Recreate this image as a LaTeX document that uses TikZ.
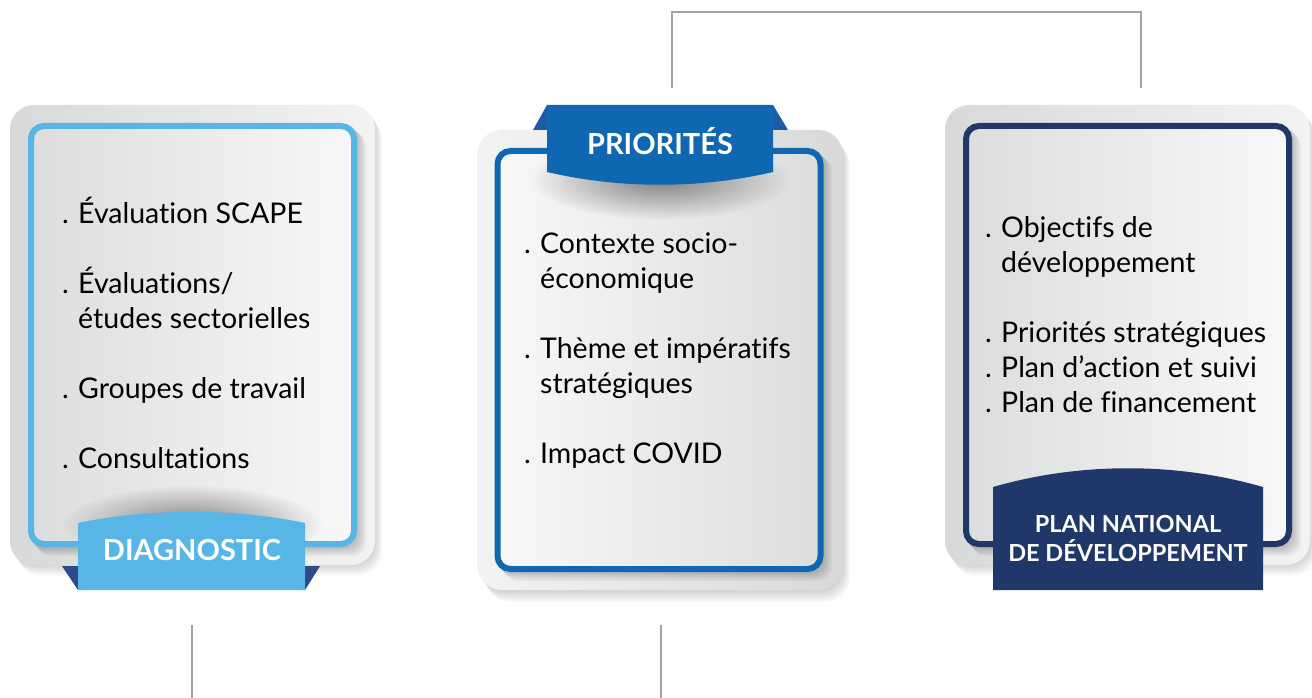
\documentclass[tikz,border=0pt]{standalone}
\usepackage{fontspec}
\setmainfont{Lato}[Ligatures=NoCommon]
\usetikzlibrary{fadings}

\definecolor{skyblue}{HTML}{58B6E6}
\definecolor{midblue}{HTML}{0F67B1}
\definecolor{navy}{HTML}{1F3769}
\definecolor{foldnavy}{HTML}{2C4A8A}
\definecolor{foldblue}{HTML}{1A5CA5}
\definecolor{linkgray}{HTML}{A3A3A3}
\definecolor{paleL}{HTML}{DCDDDD}
\definecolor{paleR}{HTML}{F8F8F8}
\definecolor{backL}{HTML}{D8D9D9}
\definecolor{backR}{HTML}{F3F3F3}

% bullet item and its continuation line
\newcommand{\itm}[1]{\makebox[16pt][l]{.}#1}
\newcommand{\cnt}[1]{\hspace*{16pt}#1}

\tikzfading[name=softglow, inner color=transparent!55, outer color=transparent!100]

\tikzset{
	cardback/.style={rounded corners=24pt, minimum width=365pt, minimum height=460pt, inner sep=0pt},
	cardface/.style={rounded corners=13pt, line width=6pt, minimum width=323pt, minimum height=418pt, inner sep=0pt},
	bullets/.style={anchor=base west, inner sep=0pt, font=\fontsize{28.5}{35}\selectfont},
	bannertext/.style={anchor=base, inner sep=0pt, text=white, font=\bfseries\fontsize{29}{32}\selectfont},
	smallbanner/.style={bannertext, font=\bfseries\fontsize{23.5}{26}\selectfont},
	link/.style={draw=linkgray, line width=1.6pt}
}

\begin{document}
\begin{tikzpicture}[x=1pt, y=-1pt]
		\useasboundingbox (0,0) rectangle (1312,698);

		% diagnostic card
		\foreach \i in {1,...,7}
			\fill[black, opacity=.025, rounded corners=24pt] (10+\i,105+1.5*\i) rectangle (375+\i,565+1.5*\i);
		\node[cardback, left color=backL, right color=backR] (diagBack) at (192.5,335) {};
		\foreach \i in {1,...,6}
			\fill[black, opacity=.035, rounded corners=14pt] (28+1.5*\i,123+1.5*\i) rectangle (357+1.5*\i,547+1.5*\i);
		\node[cardface, draw=skyblue, left color=paleL, right color=paleR] (diagFace) at (192.5,335) {};
		\fill[black, path fading=softglow] (192,525) ellipse (130 and 40);
		\fill[foldnavy] (62,566) -- (78,566) -- (78,590) -- cycle;
		\fill[foldnavy] (320,566) -- (305,566) -- (305,590) -- cycle;
		\fill[skyblue] (78,590) -- (78,523) .. controls (150,508) and (233,508) .. (305,523) -- (305,590) -- cycle;
		\node[bannertext] (diagTitle) at (192,560) {DIAGNOSTIC};
		\node[bullets] (diagList) at (62,223) {\begin{minipage}[t]{300pt}
			\itm{Évaluation SCAPE}\\[35pt]
			\itm{Évaluations/}\\
			\cnt{études sectorielles}\\[35pt]
			\itm{Groupes de travail}\\[35pt]
			\itm{Consultations}
		\end{minipage}};

		% priorities card
		\foreach \i in {1,...,8}
			\fill[black, opacity=.025, rounded corners=24pt] (478+\i,130+1.5*\i) rectangle (842+\i,590+1.5*\i);
		\node[cardback, left color=backR, right color=backL] (prioBack) at (660,360) {};
		\foreach \i in {1,...,6}
			\fill[black, opacity=.035, rounded corners=14pt] (495+1.5*\i,148+1.5*\i) rectangle (823+1.5*\i,572+1.5*\i);
		\node[cardface, draw=midblue, left color=paleR, right color=paleL] (prioFace) at (659,360) {};
		\fill[black, path fading=softglow] (660,180) ellipse (130 and 40);
		\fill[foldblue] (533,130) -- (547,105) -- (547,130) -- cycle;
		\fill[foldblue] (788,130) -- (773,105) -- (773,130) -- cycle;
		\fill[midblue] (547,105) -- (773,105) -- (773,172) .. controls (700,189) and (620,189) .. (547,172) -- cycle;
		\node[bannertext] (prioTitle) at (660,155) {PRIORITÉS};
		\node[bullets] (prioList) at (524,253) {\begin{minipage}[t]{300pt}
			\itm{Contexte socio-}\\
			\cnt{économique}\\[35pt]
			\itm{Thème et impératifs}\\
			\cnt{stratégiques}\\[35pt]
			\itm{Impact COVID}
		\end{minipage}};

		% national plan card
		\foreach \i in {1,...,7}
			\fill[black, opacity=.025, rounded corners=24pt] (945+\i,105+1.5*\i) rectangle (1310+\i,565+1.5*\i);
		\node[cardback, left color=backL, right color=backR] (planBack) at (1127.5,335) {};
		\foreach \i in {1,...,6}
			\fill[black, opacity=.035, rounded corners=14pt] (963+1.5*\i,123+1.5*\i) rectangle (1292+1.5*\i,547+1.5*\i);
		\node[cardface, draw=navy, left color=paleL, right color=paleR] (planFace) at (1127.5,335) {};
		\fill[navy] (993,590) -- (993,487) .. controls (1080,462) and (1176,462) .. (1263,487) -- (1263,590) -- cycle;
		\node[smallbanner] (planTitleA) at (1128,532) {PLAN NATIONAL};
		\node[smallbanner] (planTitleB) at (1128,561) {DE DÉVELOPPEMENT};
		\node[bullets] (planList) at (985,237) {\begin{minipage}[t]{300pt}
			\itm{Objectifs de}\\
			\cnt{développement}\\[35pt]
			\itm{Priorités stratégiques}\\
			\itm{Plan d’action et suivi}\\
			\itm{Plan de financement}
		\end{minipage}};

		% connectors
		\coordinate (prioUp) at (672,88);
		\coordinate (planUp) at (1141,88);
		\draw[link] (prioUp) -- ++(0,-76) -| (planUp);
		\coordinate (diagDown) at (192,625);
		\coordinate (diagEnd) at (192,698);
		\draw[link] (diagDown) -- (diagEnd);
		\coordinate (prioDown) at (661,625);
		\coordinate (prioEnd) at (661,698);
		\draw[link] (prioDown) -- (prioEnd);
	\end{tikzpicture}
\end{document}
